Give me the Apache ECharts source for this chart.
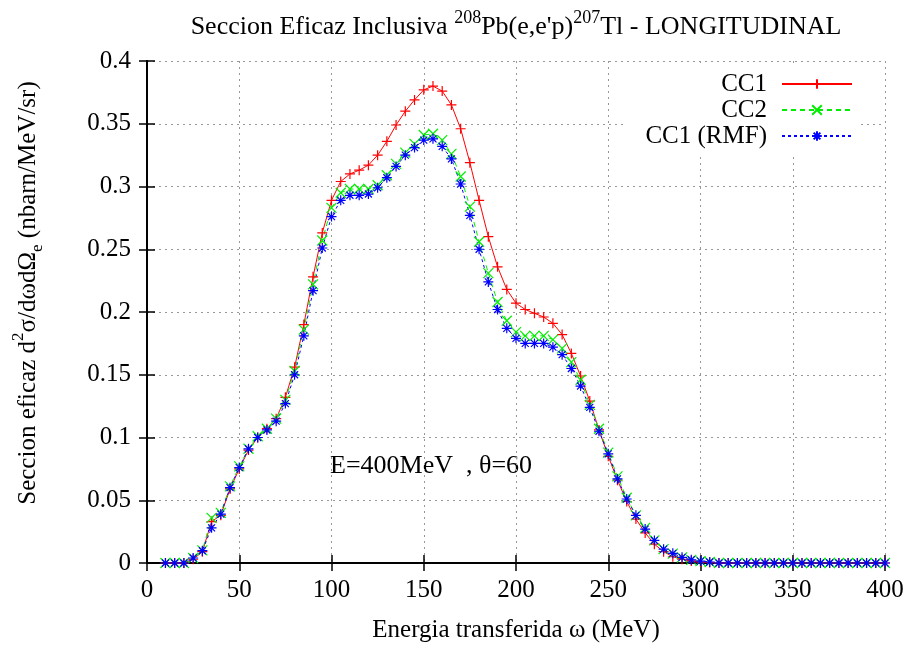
<!DOCTYPE html>
<html>
<head>
<meta charset="utf-8">
<script src="https://cdn.jsdelivr.net/npm/echarts@6/dist/echarts.min.js"></script>
<style>
  html, body { margin: 0; padding: 0; background: #fff; }
  #chart { width: 908px; height: 648px; }
</style>
</head>
<body>
<div id="chart"></div>
<script>
// energy transfer (MeV), one point every 5 MeV
const omega = [];
for (let w = 10; w <= 400; w += 5) omega.push(w);

const tail = new Array(19).fill(0); // 310 .. 400

const cc1 = [
  0, 0, 0, 0.003, 0.009, 0.033, 0.038, 0.059, 0.075, 0.090,
  0.100, 0.107, 0.115, 0.132, 0.156, 0.190, 0.228, 0.263, 0.289, 0.304,
  0.310, 0.313, 0.317, 0.325, 0.336, 0.349, 0.360, 0.369, 0.377, 0.380,
  0.376, 0.365, 0.346, 0.319, 0.289, 0.260, 0.236, 0.218, 0.207, 0.202,
  0.199, 0.196, 0.191, 0.182, 0.167, 0.149, 0.129, 0.106, 0.085, 0.066,
  0.049, 0.035, 0.024, 0.015, 0.009, 0.005, 0.003, 0.0015, 0.0008, 0.0004
].concat(tail);

const cc2 = [
  0, 0, 0, 0.004, 0.010, 0.036, 0.040, 0.061, 0.077, 0.091,
  0.101, 0.107, 0.115, 0.130, 0.153, 0.186, 0.222, 0.257, 0.283, 0.295,
  0.298, 0.298, 0.298, 0.301, 0.309, 0.318, 0.327, 0.334, 0.341, 0.342,
  0.337, 0.326, 0.308, 0.284, 0.256, 0.231, 0.208, 0.193, 0.184, 0.181,
  0.181, 0.181, 0.178, 0.171, 0.160, 0.146, 0.126, 0.107, 0.088, 0.069,
  0.052, 0.038, 0.028, 0.018, 0.011, 0.0075, 0.0045, 0.0025, 0.0015, 0.0008
].concat(tail);

const cc1rmf = [
  0, 0, 0, 0.004, 0.0098, 0.028, 0.039, 0.060, 0.076, 0.091,
  0.100, 0.106, 0.113, 0.127, 0.150, 0.181, 0.217, 0.251, 0.276, 0.289,
  0.293, 0.293, 0.294, 0.299, 0.307, 0.316, 0.325, 0.331, 0.337, 0.338,
  0.332, 0.322, 0.302, 0.277, 0.250, 0.224, 0.202, 0.187, 0.179, 0.175,
  0.175, 0.175, 0.172, 0.166, 0.155, 0.141, 0.124, 0.105, 0.087, 0.067,
  0.051, 0.038, 0.027, 0.018, 0.011, 0.0077, 0.0045, 0.0026, 0.0015, 0.0008
].concat(tail);

const seriesNames = ['CC1', 'CC2', 'CC1 (RMF)'];

const FONT = 'Liberation Serif';
const FS = 25;
const pts = vals => omega.map((w, i) => [w, vals[i]]);

const plusSym = 'path://M0,5L10,5M5,0L5,10';
const crossSym = 'path://M0,0L10,10M10,0L0,10';
const starSym = 'path://M0,5L10,5M5,0L5,10M1.5,1.5L8.5,8.5M8.5,1.5L1.5,8.5';

function makeSeries(name, vals, color, sym, dash) {
  return {
    name: name,
    type: 'line',
    data: pts(vals),
    symbol: sym,
    symbolSize: 10,
    showAllSymbol: true,
    animation: false,
    lineStyle: { color: color, width: 1, type: dash },
    itemStyle: { color: color, borderColor: color, borderWidth: 1.2 },
    emphasis: { disabled: true }
  };
}

const chart = echarts.init(document.getElementById('chart'));

const labelStyle = { fontFamily: FONT, fontSize: FS, color: '#000' };
const supSub = {
  sup: { fontFamily: FONT, fontSize: 17, verticalAlign: 'top', lineHeight: 16 },
  sub: { fontFamily: FONT, fontSize: 17, verticalAlign: 'bottom', lineHeight: 16 }
};

const option = {
  backgroundColor: '#fff',
  animation: false,
  grid: { left: 147, right: 23, top: 61, bottom: 84, show: false },
  graphic: [
    {
      type: 'text',
      x: 516, y: 27,
      style: {
        text: 'Seccion Eficaz Inclusiva {tsup|208}Pb(e,e\'p){tsup|207}Tl - LONGITUDINAL',
        fontFamily: FONT, fontSize: 26, fill: '#000',
        align: 'center', verticalAlign: 'middle',
        lineHeight: 36,
        rich: { tsup: { fontFamily: FONT, fontSize: 18, verticalAlign: 'top', lineHeight: 16 } }
      }
    },
    {
      type: 'text',
      x: 28, y: 293,
      rotation: Math.PI / 2,
      style: {
        text: 'Seccion eficaz d{sup|2}\u03c3/d\u03c9d\u03a9{sub|e} (nbarn/MeV/sr)',
        fontFamily: FONT, fontSize: FS, fill: '#000',
        align: 'center', verticalAlign: 'middle',
        lineHeight: 36, rich: supSub
      }
    },
    {
      type: 'text',
      x: 330, y: 466,
      style: {
        text: 'E=400MeV  , \u03b8=60',
        fontFamily: FONT, fontSize: 26, fill: '#000',
        verticalAlign: 'middle'
      }
    }
  ],
  legend: {
    orient: 'vertical',
    align: 'right',
    right: 50,
    top: 67,
    itemWidth: 70,
    itemHeight: 12,
    itemGap: 0,
    backgroundColor: '#fff',
    padding: [4, 5, 8, 20],
    textStyle: { fontFamily: FONT, fontSize: FS, color: '#000', lineHeight: 26, padding: [0, 10, 0, 0] },
    data: seriesNames
  },
  xAxis: [
    {
      type: 'value', min: 0, max: 400, interval: 50,
      name: 'Energia transferida \u03c9 (MeV)',
      nameLocation: 'middle', nameGap: 55,
      nameTextStyle: labelStyle,
      axisLine: { show: true, lineStyle: { color: '#000', width: 2 } },
      axisTick: { show: true, inside: true, length: 8, lineStyle: { color: '#000', width: 1.5 } },
      axisLabel: Object.assign({ margin: 15 }, labelStyle),
      splitLine: { show: true, lineStyle: { color: '#999', type: [2, 4], width: 1 } }
    },
    {
      type: 'value', min: 0, max: 400, interval: 50, position: 'top',
      axisLine: { show: true, lineStyle: { color: '#000', width: 2 } },
      axisTick: { show: true, inside: true, length: 8, lineStyle: { color: '#000', width: 1.5 } },
      axisLabel: { show: false },
      splitLine: { show: false }
    }
  ],
  yAxis: [
    {
      type: 'value', min: 0, max: 0.4, interval: 0.05,
      axisLine: { show: true, lineStyle: { color: '#000', width: 2 } },
      axisTick: { show: true, inside: true, length: 8, lineStyle: { color: '#000', width: 1.5 } },
      axisLabel: Object.assign({ margin: 16 }, labelStyle),
      splitLine: { show: true, lineStyle: { color: '#999', type: [2, 4], width: 1 } }
    },
    {
      type: 'value', min: 0, max: 0.4, interval: 0.05, position: 'right',
      axisLine: { show: true, lineStyle: { color: '#000', width: 2 } },
      axisTick: { show: true, inside: true, length: 8, lineStyle: { color: '#000', width: 1.5 } },
      axisLabel: { show: false },
      splitLine: { show: false }
    }
  ],
  series: [
    makeSeries(seriesNames[0], cc1, '#ff0000', plusSym, 'solid'),
    makeSeries(seriesNames[1], cc2, '#00ee00', crossSym, [5, 4]),
    makeSeries(seriesNames[2], cc1rmf, '#0000ff', starSym, [3, 3])
  ]
};

chart.setOption(option);
</script>
</body>
</html>
